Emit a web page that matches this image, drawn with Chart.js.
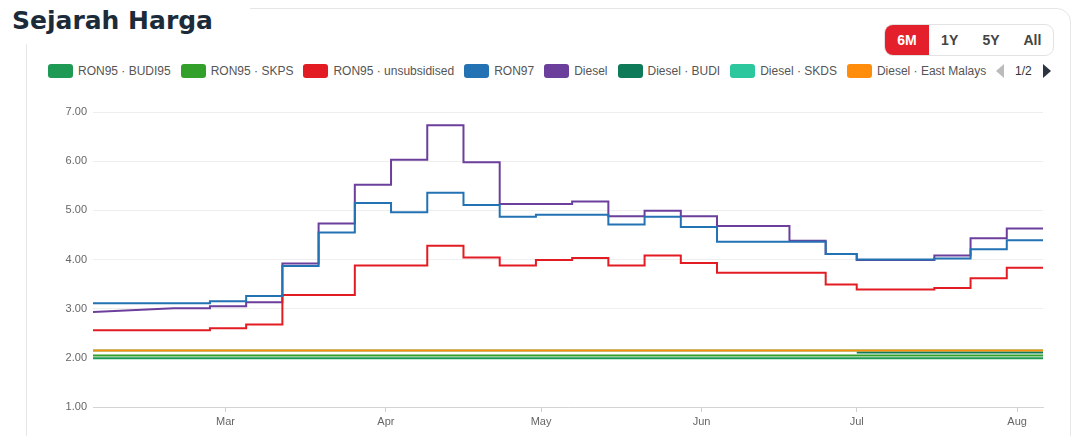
<!DOCTYPE html>
<html>
<head>
<meta charset="utf-8">
<script src="https://cdn.jsdelivr.net/npm/chart.js@4.4.1/dist/chart.umd.min.js"></script>
<style>
  body { margin: 0; width: 1089px; height: 436px; overflow: hidden; background: #fff;
         font-family: "Liberation Sans", Arial, sans-serif; position: relative; }
  .card { position: absolute; left: 26px; top: 8px; width: 1045px; height: 460px;
          border: 1px solid #e6e6e6; border-radius: 14px; box-sizing: border-box; }
  .title-box { position: absolute; left: 0; top: 0; width: 250px; height: 44px; background: #fff; }
  .title { position: absolute; left: 12px; top: 6px; font-family: "DejaVu Sans", sans-serif;
           font-weight: bold; font-size: 25px; color: #1c2b39; white-space: nowrap; }
  .range { position: absolute; left: 884px; top: 24px; height: 32px; width: 170px; display: flex;
           border: 1px solid #e2e2e2; border-radius: 9px; overflow: hidden; box-sizing: border-box; }
  .range div { flex: 1; text-align: center; line-height: 30px; font-size: 14px; font-weight: bold; color: #444; }
  .range .on { background: #e3202b; color: #fff; flex: 0 0 44px; }
  #legend { position: absolute; left: 48px; top: 62px; display: flex; white-space: nowrap; }
  .item { display: flex; align-items: center; margin-right: 10px; font-size: 12px; color: #555; height: 18px; }
  .item span.box { width: 25px; height: 14px; border-radius: 3px; margin-right: 5px; }
  .pager { position: absolute; left: 996px; top: 63px; height: 16px; display: flex; align-items: center;
           font-size: 12px; color: #333; }
  .tri-l { width: 0; height: 0; border-top: 7px solid transparent; border-bottom: 7px solid transparent;
           border-right: 8px solid #bbb; margin-right: 11px; }
  .tri-r { width: 0; height: 0; border-top: 7px solid transparent; border-bottom: 7px solid transparent;
           border-left: 8px solid #2b3440; margin-left: 11px; }
  .wrap { position: absolute; left: 0; top: 0; width: 1089px; height: 436px; }
</style>
</head>
<body>
<div class="card"></div>
<div class="title-box"></div>
<div class="title">Sejarah Harga</div>
<div class="range"><div class="on">6M</div><div>1Y</div><div>5Y</div><div>All</div></div>
<div id="legend"></div>
<div class="pager"><div class="tri-l"></div>1/2<div class="tri-r"></div></div>
<div class="wrap"><canvas id="priceChart"></canvas></div>

<script>
// weekly price dates (price holds until the next date)
const dates = ['2025-02-03', '2025-02-19', '2025-02-26', '2025-03-05', '2025-03-12', '2025-03-19',
  '2025-03-26', '2025-04-02', '2025-04-09', '2025-04-16', '2025-04-23', '2025-04-30',
  '2025-05-07', '2025-05-14', '2025-05-21', '2025-05-28', '2025-06-04', '2025-06-11',
  '2025-06-18', '2025-06-25', '2025-07-01', '2025-07-09', '2025-07-16', '2025-07-23',
  '2025-07-30', '2025-08-06'];

const ron95Budi = [1.99, 1.99, 1.99, 1.99, 1.99, 1.99, 1.99, 1.99, 1.99, 1.99, 1.99, 1.99, 1.99,
  1.99, 1.99, 1.99, 1.99, 1.99, 1.99, 1.99, 1.99, 1.99, 1.99, 1.99, 1.99, 1.99];
const ron95Skps = [2.05, 2.05, 2.05, 2.05, 2.05, 2.05, 2.05, 2.05, 2.05, 2.05, 2.05, 2.05, 2.05,
  2.05, 2.05, 2.05, 2.05, 2.05, 2.05, 2.05, 2.05, 2.05, 2.05, 2.05, 2.05, 2.05];
const ron95Unsub = [2.56, 2.56, 2.60, 2.68, 3.28, 3.28, 3.88, 3.88, 4.28, 4.04, 3.88, 3.99, 4.03,
  3.88, 4.08, 3.93, 3.73, 3.73, 3.73, 3.49, 3.39, 3.39, 3.42, 3.62, 3.83, 3.83];
const ron97 = [3.11, 3.11, 3.15, 3.26, 3.87, 4.55, 5.15, 4.96, 5.36, 5.11, 4.87, 4.91, 4.91,
  4.71, 4.87, 4.66, 4.36, 4.36, 4.36, 4.11, 4.00, 4.00, 4.02, 4.21, 4.39, 4.39];
const diesel = [2.93, 3.01, 3.05, 3.13, 3.92, 4.73, 5.52, 6.03, 6.73, 5.98, 5.13, 5.13, 5.18,
  4.88, 4.99, 4.88, 4.68, 4.68, 4.38, 4.11, 3.99, 3.99, 4.08, 4.43, 4.63, 4.63];
const dieselBudi = [null, null, null, null, null, null, null, null, null, null, null, null, null,
  null, null, null, null, null, null, null, 2.11, 2.11, 2.11, 2.11, 2.11, 2.11];
const dieselSkds = [2.15, 2.15, 2.15, 2.15, 2.15, 2.15, 2.15, 2.15, 2.15, 2.15, 2.15, 2.15, 2.15,
  2.15, 2.15, 2.15, 2.15, 2.15, 2.15, 2.15, 2.15, 2.15, 2.15, 2.15, 2.15, 2.15];
const dieselEast = [2.15, 2.15, 2.15, 2.15, 2.15, 2.15, 2.15, 2.15, 2.15, 2.15, 2.15, 2.15, 2.15,
  2.15, 2.15, 2.15, 2.15, 2.15, 2.15, 2.15, 2.15, 2.15, 2.15, 2.15, 2.15, 2.15];

const seriesNames = ['RON95 · BUDI95', 'RON95 · SKPS', 'RON95 · unsubsidised', 'RON97',
  'Diesel', 'Diesel · BUDI', 'Diesel · SKDS', 'Diesel · East Malays'];
const seriesColors = ['#1f9a55', '#34a02c', '#e31c23', '#2272b4', '#6b3f9b', '#0e7a58', '#2cc79d', '#ff8c0a'];

const monthStarts = ['2025-03-01', '2025-04-01', '2025-05-01', '2025-06-01', '2025-07-01', '2025-08-01'];
const monthLabels = ['Mar', 'Apr', 'May', 'Jun', 'Jul', 'Aug'];

function dayOf(s) {
  const p = s.split('-').map(Number);
  return (Date.UTC(p[0], p[1] - 1, p[2]) - Date.UTC(p[0], 0, 1)) / 86400000;
}
const days = dates.map(dayOf);
const monthDays = monthStarts.map(dayOf);

// turn weekly prices into step points; ramp = first two points joined directly
function stepPoints(vals, ramp) {
  const pts = [];
  vals.forEach((v, i) => {
    if (v == null) return;
    if (pts.length && !(ramp && i === 1)) pts.push({ x: days[i], y: pts[pts.length - 1].y });
    pts.push({ x: days[i], y: v });
  });
  return pts;
}

const allSeries = [ron95Budi, ron95Skps, ron95Unsub, ron97, diesel, dieselBudi, dieselSkds, dieselEast];
const drawOrder = [3, 4, 2, 1, 5, 7, 6, 0];

const datasets = allSeries.map((vals, i) => ({
  label: seriesNames[i],
  data: stepPoints(vals, seriesNames[i] === 'Diesel'),
  borderColor: seriesColors[i],
  backgroundColor: seriesColors[i],
  borderWidth: 2,
  pointRadius: 0,
  fill: false,
  tension: 0,
  order: drawOrder[i]
}));

// html legend (page 1 of 2)
const legendDiv = document.getElementById('legend');
seriesNames.forEach((name, i) => {
  const item = document.createElement('div');
  item.className = 'item';
  item.innerHTML = `<span class="box" style="background:${seriesColors[i]}"></span>${name}`;
  legendDiv.appendChild(item);
});

new Chart(document.getElementById('priceChart').getContext('2d'), {
  type: 'line',
  data: { datasets: datasets },
  options: {
    responsive: true,
    maintainAspectRatio: false,
    animation: false,
    layout: { padding: { top: 112, right: 46, left: 0, bottom: 0 } },
    plugins: { legend: { display: false }, tooltip: { enabled: false } },
    scales: {
      x: {
        type: 'linear',
        min: dayOf('2025-02-03') + 0.4,
        max: dayOf('2025-08-06'),
        afterBuildTicks: axis => { axis.ticks = monthDays.map(v => ({ value: v })); },
        afterFit: scale => { scale.height = 29; },
        grid: { drawOnChartArea: false, drawTicks: true, tickLength: 5, color: '#cfcfcf' },
        border: { display: true, color: '#d4d4d4' },
        ticks: {
          padding: 3, color: '#666', font: { size: 11, family: 'Liberation Sans' },
          maxRotation: 0, autoSkip: false,
          callback: v => monthLabels[monthDays.indexOf(v)]
        }
      },
      y: {
        min: 1, max: 7,
        afterFit: scale => { scale.width = 93; },
        grid: { color: '#eeeeee', drawTicks: false },
        border: { display: false },
        ticks: {
          stepSize: 1, padding: 6, color: '#666', font: { size: 11, family: 'Liberation Sans' },
          callback: v => v.toFixed(2)
        }
      }
    }
  }
});
</script>
</body>
</html>
